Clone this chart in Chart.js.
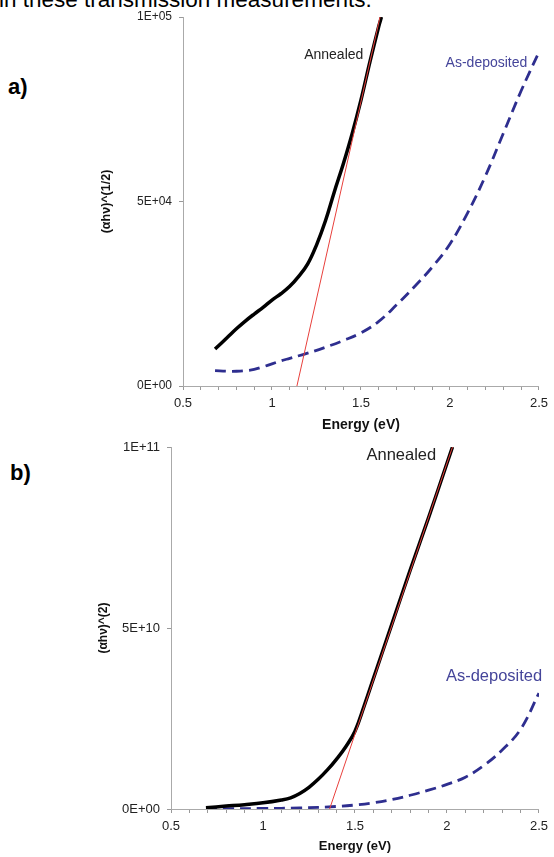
<!DOCTYPE html>
<html>
<head>
<meta charset="utf-8">
<script src="https://cdn.jsdelivr.net/npm/chart.js@4.4.1/dist/chart.umd.min.js"></script>
<style>
body { margin:0; background:#fff; width:554px; height:857px; overflow:hidden; position:relative; font-family:"Liberation Sans", Arial, sans-serif; }
canvas { position:absolute; left:0; }
#chartA { top:0; }
#chartB { top:430px; }
.intro { position:absolute; left:-1px; top:-11px; font-size:22.5px; line-height:22px; color:#000; white-space:nowrap; }
.panel { position:absolute; font-weight:bold; font-size:22px; line-height:22px; color:#000; }
</style>
</head>
<body>
<div class="intro">in these transmission measurements.</div>
<div class="panel" style="left:8px; top:76px;">a)</div>
<div class="panel" style="left:10px; top:462px;">b)</div>
<canvas id="chartA" width="554" height="436"></canvas>
<canvas id="chartB" width="554" height="427"></canvas>
<script>
// panel a) : (ahv)^(1/2)
const energyAnnA = [0.68, 0.75, 0.8, 0.85, 0.9, 0.95, 1.0, 1.05, 1.1, 1.15, 1.2, 1.25, 1.3, 1.35, 1.4, 1.45, 1.5, 1.55, 1.6, 1.615]
const annealedA = [10000, 13200, 15500, 17600, 19500, 21300, 23300, 25000, 27000, 29700, 33000, 38200, 44700, 52600, 60100, 68300, 77500, 87800, 97500, 100000]
const energyDepA = [0.68, 0.75, 0.8, 0.85, 0.9, 0.95, 1.0, 1.05, 1.1, 1.2, 1.3, 1.4, 1.5, 1.6, 1.7, 1.8, 1.9, 2.0, 2.1, 2.2, 2.3, 2.4, 2.5]
const depositedA = [4150, 4000, 4000, 4150, 4500, 5200, 6000, 6800, 7500, 8900, 10500, 12300, 14400, 17500, 22000, 26900, 32200, 38500, 47000, 57000, 68500, 80000, 90500]
const fitEnergyA = [1.14, 1.607]
const fitA = [0, 100000]

// panel b) : (ahv)^2
const energyAnnB = [0.69, 0.8, 0.9, 1.0, 1.1, 1.15, 1.2, 1.25, 1.3, 1.35, 1.4, 1.45, 1.5, 1.55, 1.6, 1.7, 1.8, 1.9, 2.0, 2.03]
const annealedB = [3.6e8, 8e8, 1.2e9, 1.7e9, 2.5e9, 3.1e9, 4.3e9, 6.0e9, 8.2e9, 1.08e10, 1.38e10, 1.72e10, 2.15e10, 2.85e10, 3.6e10, 5.1e10, 6.6e10, 8.05e10, 9.55e10, 1.0e11]
const energyDepB = [0.69, 0.8, 1.0, 1.2, 1.4, 1.5, 1.6, 1.7, 1.8, 1.9, 2.0, 2.1, 2.2, 2.3, 2.4, 2.5]
const depositedB = [1e8, 1e8, 1.5e8, 3e8, 7e8, 1.1e9, 1.7e9, 2.6e9, 3.8e9, 5.2e9, 6.8e9, 8.8e9, 1.2e10, 1.63e10, 2.2e10, 3.2e10]
const fitEnergyB = [1.362, 2.03]
const fitB = [0, 1.0e11]

const energyTicks = [0.5, 1, 1.5, 2, 2.5]

const FONT = '"Liberation Sans", Arial, sans-serif'
const AXIS_GREY = '#aaaaaa'
const TICK_GREY = '#999999'
const NAVY = '#2e2e8f'

function points(xs, ys) {
    return xs.map((x, i) => ({ x: x, y: ys[i] }))
}

function sciLabel(v) {
    const parts = v.toExponential(0).split('e')
    const exp = parts[1]
    return parts[0] + 'E' + exp[0] + exp.slice(1).padStart(2, '0')
}

// draws the "Annealed" / "As-deposited" captions at data positions
const seriesLabels = {
    id: 'seriesLabels',
    afterDatasetsDraw(chart, args, opts) {
        const ctx = chart.ctx
        ctx.save()
        ctx.textAlign = 'center'
        ctx.textBaseline = 'middle'
        opts.items.forEach(item => {
            ctx.fillStyle = item.color
            ctx.font = item.size + 'px ' + FONT
            ctx.fillText(item.text, chart.scales.x.getPixelForValue(item.x), chart.scales.y.getPixelForValue(item.y))
        })
        ctx.restore()
    }
}

function makeChart(id, cfg) {
    return new Chart(document.getElementById(id), {
        type: 'line',
        data: {
            datasets: [
                { data: points(cfg.fitX, cfg.fitY), borderColor: '#e8403c', borderWidth: 1, tension: 0 },
                { data: points(cfg.annX, cfg.annY), borderColor: '#000', borderWidth: 3.5, tension: 0.4 },
                { data: points(cfg.depX, cfg.depY), borderColor: NAVY, borderWidth: 2.8, borderDash: [11, 6], tension: 0.4 }
            ]
        },
        options: {
            responsive: false,
            animation: false,
            events: [],
            elements: { point: { radius: 0 } },
            layout: { padding: cfg.padding },
            plugins: {
                legend: { display: false },
                tooltip: { enabled: false },
                seriesLabels: { items: cfg.labels }
            },
            scales: {
                x: {
                    type: 'linear',
                    min: 0.5,
                    max: 2.5,
                    afterFit: (scale) => { scale.height = cfg.xHeight },
                    afterBuildTicks: (scale) => {
                        // minor ticks every 0.1 eV, labels only on the major values
                        const t = []
                        for (let i = 0; i <= 20; i++) t.push({ value: 0.5 + i * 0.1 })
                        scale.ticks = t
                    },
                    grid: { display: true, drawOnChartArea: false, drawTicks: true, tickLength: 4, color: AXIS_GREY, tickColor: TICK_GREY, tickWidth: 1 },
                    border: { color: AXIS_GREY, width: 1 },
                    ticks: {
                        autoSkip: false,
                        maxRotation: 0,
                        padding: 6,
                        color: '#222',
                        font: { family: FONT, size: 13 },
                        callback: (v) => {
                            const hit = energyTicks.find(e => Math.abs(e - v) < 1e-6)
                            return hit === undefined ? '' : String(hit)
                        }
                    },
                    title: {
                        display: true,
                        text: 'Energy (eV)',
                        color: '#111',
                        font: { family: FONT, size: cfg.xTitleSize, weight: 'bold', lineHeight: 1.2 },
                        padding: { top: 0, bottom: cfg.xTitlePad }
                    }
                },
                y: {
                    min: 0,
                    max: cfg.yMax,
                    afterFit: (scale) => { scale.width = cfg.yWidth },
                    grid: { display: true, drawOnChartArea: false, drawTicks: true, tickLength: 4, color: AXIS_GREY, tickColor: TICK_GREY, tickWidth: 1 },
                    border: { color: AXIS_GREY, width: 1 },
                    ticks: {
                        stepSize: cfg.yMax / 2,
                        padding: 7,
                        color: '#222',
                        font: { family: FONT, size: cfg.yTickSize },
                        callback: (v) => sciLabel(v)
                    },
                    title: {
                        display: true,
                        text: cfg.yTitle,
                        color: '#111',
                        font: { family: FONT, size: cfg.yTitleSize, weight: 'bold', lineHeight: 1.2 },
                        padding: { top: 0, bottom: 0 }
                    }
                }
            }
        },
        plugins: [seriesLabels]
    })
}

makeChart('chartA', {
    fitX: fitEnergyA, fitY: fitA,
    annX: energyAnnA, annY: annealedA,
    depX: energyDepA, depY: depositedA,
    yMax: 1e5,
    yTitle: '(\u03b1h\u03bd)^(1/2)',
    padding: { top: 17, right: 12, left: 99, bottom: 0 },
    yWidth: 84, xHeight: 50,
    xTitleSize: 14, xTitlePad: 2.6,
    yTitleSize: 12.5, yTickSize: 12,
    labels: [
        { text: 'Annealed', x: 1.347, y: 89700, color: '#222', size: 14 },
        { text: 'As-deposited', x: 2.205, y: 87500, color: '#45459a', size: 14 }
    ]
})

makeChart('chartB', {
    fitX: fitEnergyB, fitY: fitB,
    annX: energyAnnB, annY: annealedB,
    depX: energyDepB, depY: depositedB,
    yMax: 1e11,
    yTitle: '(\u03b1h\u03bd)^(2)',
    padding: { top: 17, right: 14, left: 96, bottom: 0 },
    yWidth: 75, xHeight: 48,
    xTitleSize: 13, xTitlePad: 2.5,
    yTitleSize: 12, yTickSize: 13,
    labels: [
        { text: 'Annealed', x: 1.752, y: 9.78e10, color: '#222', size: 16.5 },
        { text: 'As-deposited', x: 2.256, y: 3.67e10, color: '#45459a', size: 16.5 }
    ]
})
</script>
</body>
</html>
